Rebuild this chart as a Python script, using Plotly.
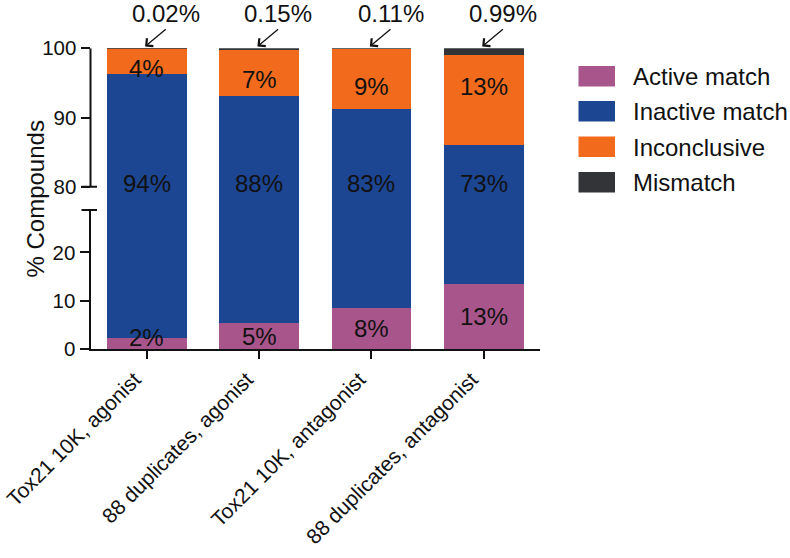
import plotly.graph_objects as go

# ---------------- data ----------------
categories = ["Tox21 10K, agonist", "88 duplicates, agonist",
              "Tox21 10K, antagonist", "88 duplicates, antagonist"]
active_match = [2.2, 5.3, 8.4, 13.4]
inactive_match = [94.1, 87.8, 82.8, 72.6]
inconclusive = [3.68, 6.75, 8.69, 13.01]
mismatch = [0.02, 0.15, 0.11, 0.99]
series_names = ["Active match", "Inactive match", "Inconclusive", "Mismatch"]
lower_ticks = [0, 10, 20]
upper_ticks = [80, 90, 100]

# ---------------- styles ----------------
colors = ["#A8558C", "#1C4592", "#F26B1D", "#333438"]
FONT = "Liberation Sans, Arial, sans-serif"
W, H = 790, 558

def xp(px):
    return px / W

def yp(py):
    return 1 - py / H

# pixel geometry of the broken axis
X_LEFT, X_RIGHT = 90.5, 540
Y_ZERO, Y_BREAK_LOW = 349, 210
Y_80, Y_100 = 186.8, 48.3
low_scale = (Y_ZERO - 300.7) / 10.0           # px per unit (lower)
up_scale = (Y_80 - Y_100) / 20.0               # px per unit (upper)
low_top = (Y_ZERO - Y_BREAK_LOW) / low_scale
up_bottom = 80 - (Y_BREAK_LOW - Y_80) / up_scale

series = [active_match, inactive_match, inconclusive, mismatch]

fig = go.Figure()
for name, vals, col in zip(series_names, series, colors):
    for ya in ["y", "y2"]:
        fig.add_trace(go.Bar(
            x=categories, y=vals, name=name, yaxis=ya, xaxis="x",
            marker=dict(color=col, line=dict(width=0)),
            showlegend=False, hoverinfo="name+y",
        ))

annotations = []
for i, cat in enumerate(categories):
    a, b, c, m = active_match[i], inactive_match[i], inconclusive[i], mismatch[i]
    # active label
    annotations.append(dict(x=cat, y=max(a / 2, 2.3), xref="x", yref="y",
                            text=f"{round(a)}%", showarrow=False,
                            font=dict(size=24, color="#111", family=FONT)))
    # inactive label (near axis break)
    annotations.append(dict(x=cat, y=80.5, xref="x", yref="y2",
                            text=f"{round(b)}%", showarrow=False,
                            font=dict(size=24, color="#111", family=FONT)))
    # inconclusive label
    annotations.append(dict(x=cat, y=max(a + b + c / 2, 95.5), xref="x", yref="y2",
                            yshift=-7, text=f"{round(c)}%", showarrow=False,
                            font=dict(size=24, color="#111", family=FONT)))
    # mismatch label with arrow
    annotations.append(dict(x=i - 0.035, y=a + b + c + m, xref="x", yref="y2",
                            text=f"{m:.2f}%", showarrow=True,
                            ax=23, ay=-19, xanchor="center", yanchor="bottom",
                            arrowhead=4, arrowsize=1.5, arrowwidth=1.3,
                            arrowcolor="#111", standoff=3,
                            font=dict(size=24, color="#111", family=FONT)))

# y-axis title
annotations.append(dict(x=xp(19), y=yp(199), xref="paper", yref="paper",
                        text="% Compounds", textangle=-90, showarrow=False,
                        font=dict(size=24, color="#111", family=FONT)))

shapes = [
    # upper axis line
    dict(type="line", xref="paper", yref="y2", x0=xp(X_LEFT), x1=xp(X_LEFT),
         y0=80, y1=100, line=dict(color="#111", width=2)),
    # break marks
    dict(type="line", xref="paper", yref="y2", x0=xp(81.5), x1=xp(97),
         y0=80, y1=80, line=dict(color="#111", width=2)),
    dict(type="line", xref="paper", yref="y domain", x0=xp(81.5), x1=xp(97),
         y0=1, y1=1, line=dict(color="#111", width=2)),
]

# custom legend
leg_top = [66, 101, 136.5, 172]
for name, col, top in zip(series_names, colors, leg_top):
    shapes.append(dict(type="rect", xref="paper", yref="paper",
                       x0=xp(578.5), x1=xp(615), y0=yp(top), y1=yp(top + 20.5),
                       fillcolor=col, line=dict(width=0)))
    annotations.append(dict(x=xp(631), y=yp(top + 10.5), xref="paper", yref="paper",
                            xanchor="left", yanchor="middle", text=name,
                            showarrow=False,
                            font=dict(size=24, color="#111", family=FONT)))

axis_common = dict(showgrid=False, zeroline=False, ticks="outside",
                   tickcolor="#111", tickwidth=2, ticklen=9,
                   tickfont=dict(size=20.5, color="#111", family=FONT),
                   linecolor="#111", linewidth=2)

fig.update_layout(
    width=W, height=H, barmode="stack", bargap=0.29,
    margin=dict(l=0, r=0, t=0, b=0),
    paper_bgcolor="white", plot_bgcolor="white",
    font=dict(family=FONT, color="#111"),
    xaxis=dict(domain=[xp(X_LEFT), xp(X_RIGHT)], range=[-0.5, 3.5],
               anchor="y", showline=True, tickangle=-45, automargin=False,
               ticklabelshift=-12,
               **{**axis_common, "ticklen": 8,
                  "tickfont": dict(size=21, color="#111", family=FONT)}),
    yaxis=dict(domain=[yp(Y_ZERO), yp(Y_BREAK_LOW)], range=[0, low_top],
               anchor="x", showline=True, tickvals=lower_ticks,
               automargin=False, **axis_common),
    yaxis2=dict(domain=[yp(Y_BREAK_LOW), yp(Y_100)], range=[up_bottom, 100],
                anchor="x", showline=False, tickvals=upper_ticks,
                automargin=False, **axis_common),
    annotations=annotations, shapes=shapes, showlegend=False,
)

fig.write_html("out.html", config={"displayModeBar": False},
               post_script="document.body.style.margin='0';document.body.style.overflow='hidden';")
